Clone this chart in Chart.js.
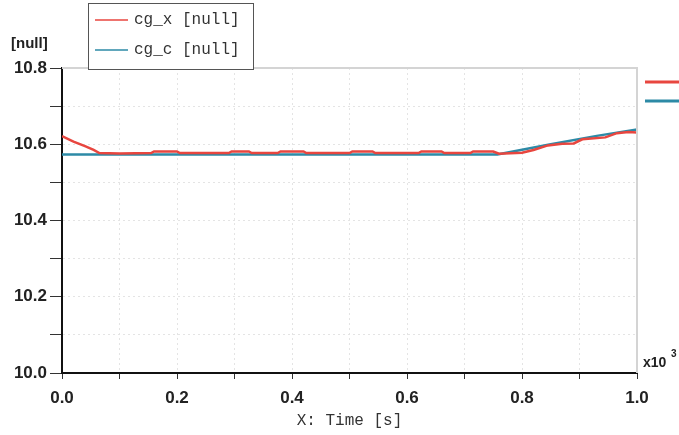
<!DOCTYPE html>
<html>
<head>
<meta charset="utf-8">
<script src="https://cdn.jsdelivr.net/npm/chart.js@4.4.0/dist/chart.umd.min.js"></script>
<style>
    html, body { margin: 0; padding: 0; background: #fff; }
    #wrap { width: 679px; height: 435px; }
</style>
</head>
<body>
<div id="wrap"><canvas id="lineChart"></canvas></div>
<script>
// values
const timeX = [0, 0.02, 0.04, 0.055, 0.065, 0.1, 0.155, 0.16, 0.2, 0.205, 0.29, 0.295, 0.325, 0.33,
    0.375, 0.38, 0.42, 0.425, 0.5, 0.505, 0.54, 0.545, 0.62, 0.625, 0.66, 0.665, 0.71, 0.715,
    0.75, 0.76, 0.8, 0.82, 0.845, 0.87, 0.89, 0.905, 0.945, 0.965, 0.985, 1.0];
const cgX = [10.621, 10.607, 10.595, 10.585, 10.577, 10.576, 10.577, 10.581, 10.581, 10.577, 10.577, 10.581, 10.581, 10.577,
    10.577, 10.581, 10.581, 10.577, 10.577, 10.581, 10.581, 10.577, 10.577, 10.581, 10.581, 10.577, 10.577, 10.581,
    10.581, 10.575, 10.578, 10.585, 10.597, 10.601, 10.602, 10.613, 10.618, 10.629, 10.632, 10.631];
const timeC = [0, 0.757, 0.85, 0.93, 1.0];
const cgC = [10.573, 10.573, 10.600, 10.622, 10.639];
const legendLabels = ['cg_x [null]', 'cg_c [null]'];
const seriesColors = ['#e8463f', '#2d8aa6'];

const toPoints = (xs, ys) => xs.map((x, i) => ({ x: x, y: ys[i] }));

const tickFont = { family: 'Liberation Sans, Arial, sans-serif', size: 17, weight: 'bold' };
const monoFont = '"Liberation Mono", "DejaVu Sans Mono", monospace';

const decorations = {
    id: 'decorations',
    afterDraw(chart) {
        const ctx = chart.ctx;
        const a = chart.chartArea;
        ctx.save();
        // light frame top/right
        ctx.strokeStyle = '#d4d4d4';
        ctx.lineWidth = 2;
        ctx.beginPath();
        ctx.moveTo(a.left, a.top);
        ctx.lineTo(a.right, a.top);
        ctx.lineTo(a.right, a.bottom);
        ctx.stroke();

        // legend box
        ctx.fillStyle = '#fff';
        ctx.fillRect(88, 3, 165, 66);
        ctx.strokeStyle = '#555';
        ctx.lineWidth = 1;
        ctx.strokeRect(88.5, 3.5, 165, 66);
        ctx.font = '16px ' + monoFont;
        ctx.textBaseline = 'middle';
        legendLabels.forEach((lbl, i) => {
            const y = 20 + i * 30;
            ctx.strokeStyle = seriesColors[i];
            ctx.lineWidth = 1.5;
            ctx.beginPath();
            ctx.moveTo(95, y);
            ctx.lineTo(128, y);
            ctx.stroke();
            ctx.fillStyle = '#333';
            ctx.fillText(lbl, 134, y);
        });

        // short lines on right
        seriesColors.forEach((c, i) => {
            ctx.strokeStyle = c;
            ctx.lineWidth = 3;
            ctx.beginPath();
            ctx.moveTo(645, 82 + i * 19);
            ctx.lineTo(679, 82 + i * 19);
            ctx.stroke();
        });

        // unit texts
        ctx.fillStyle = '#222';
        ctx.font = 'bold 15px Liberation Sans, Arial, sans-serif';
        ctx.textBaseline = 'middle';
        ctx.fillText('[null]', 11, 44);
        ctx.font = 'bold 14px Liberation Sans, Arial, sans-serif';
        ctx.fillText('x10', 643, 363);
        ctx.font = 'bold 10px Liberation Sans, Arial, sans-serif';
        ctx.fillText('3', 671, 354);
        ctx.restore();
    }
};

new Chart(document.getElementById('lineChart'), {
    type: 'line',
    data: {
        datasets: [
            {
                label: legendLabels[0],
                data: toPoints(timeX, cgX),
                borderColor: seriesColors[0],
                borderWidth: 2.5,
                pointRadius: 0,
                tension: 0
            },
            {
                label: legendLabels[1],
                data: toPoints(timeC, cgC),
                borderColor: seriesColors[1],
                borderWidth: 2.5,
                pointRadius: 0,
                tension: 0
            }
        ]
    },
    options: {
        responsive: true,
        maintainAspectRatio: false,
        animation: false,
        layout: {
            padding: { left: 0, right: 42, top: 68, bottom: 0 }
        },
        plugins: {
            legend: { display: false },
            tooltip: { enabled: false }
        },
        scales: {
            x: {
                type: 'linear',
                min: 0,
                max: 1,
                afterFit: (scale) => { scale.height = 62; },
                ticks: {
                    stepSize: 0.1,
                    autoSkip: false,
                    maxRotation: 0,
                    padding: 9,
                    color: '#222',
                    font: tickFont,
                    callback: (v) => Math.round(v * 10) % 2 === 0 ? v.toFixed(1) : ''
                },
                grid: {
                    color: '#e4e4e4',
                    tickColor: '#333',
                    tickLength: 6,
                    lineWidth: 1
                },
                border: { color: '#111', width: 2, dash: [2, 3] },
                title: {
                    display: true,
                    text: 'X: Time [s]',
                    color: '#333',
                    font: { family: monoFont, size: 16 },
                    padding: { top: 0, bottom: 5 }
                }
            },
            y: {
                min: 10,
                max: 10.8,
                afterFit: (scale) => { scale.width = 62; },
                ticks: {
                    stepSize: 0.1,
                    autoSkip: false,
                    padding: 3,
                    color: '#222',
                    font: tickFont,
                    callback: (v) => Math.round(v * 10) % 2 === 0 ? v.toFixed(1) : ''
                },
                grid: {
                    color: '#e4e4e4',
                    tickColor: '#333',
                    tickLength: 12,
                    lineWidth: 1
                },
                border: { color: '#111', width: 2, dash: [2, 3] }
            }
        }
    },
    plugins: [decorations]
});
</script>
</body>
</html>
